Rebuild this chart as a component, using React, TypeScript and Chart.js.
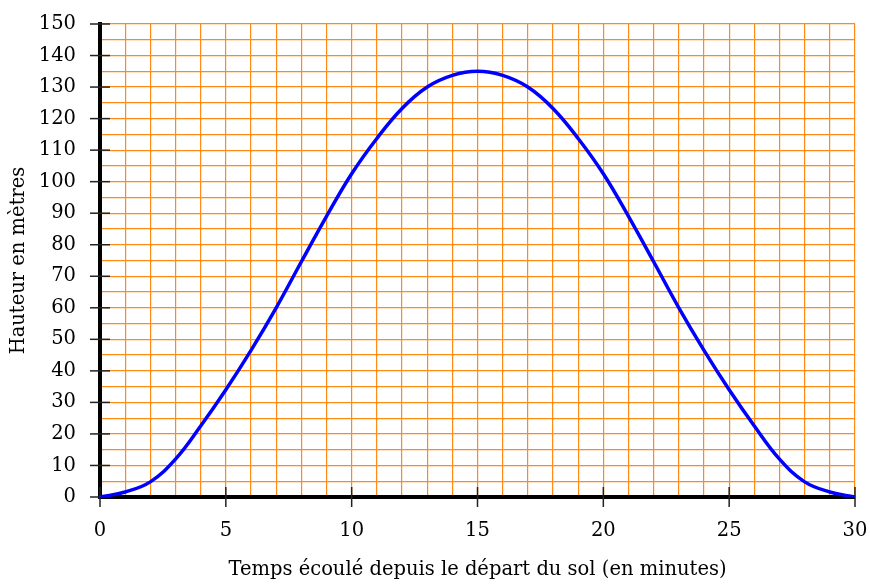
import React, { useEffect, useRef } from 'react';
import { Chart, registerables } from 'chart.js';

Chart.register(...registerables);

const minutes = [0, 1, 2, 3, 4, 5, 6, 7, 8, 9, 10, 11, 12, 13, 14, 15, 16, 17, 18, 19, 20, 21, 22, 23, 24, 25, 26, 27, 28, 29, 30];
const heights = [0, 1.6, 4.8, 12, 22.5, 34, 46.5, 60, 74.6, 89, 102.5, 113.7, 123.2, 130, 133.7, 135, 133.7, 130, 123.2, 113.7, 102.5, 89, 74.6, 60, 46.5, 34, 22.5, 12, 4.8, 1.6, 0];
const xTickLabels = [0, 5, 10, 15, 20, 25, 30];
const yTickLabels = [0, 10, 20, 30, 40, 50, 60, 70, 80, 90, 100, 110, 120, 130, 140, 150];
const xTitle = 'Temps écoulé depuis le départ du sol (en minutes)';
const yTitle = 'Hauteur en mètres';

const FONT = 'DejaVu Serif';
const GRID = '#ff8a14';

const crossTicks = {
  id: 'crossTicks',
  beforeDatasetsDraw(chart: any) {
    const { ctx, chartArea, scales } = chart;
    ctx.save();
    ctx.strokeStyle = '#222';
    ctx.lineWidth = 1.5;
    const L = 10;
    xTickLabels.forEach((v) => {
      const px = scales.x.getPixelForValue(v);
      ctx.beginPath();
      ctx.moveTo(px, chartArea.bottom - L);
      ctx.lineTo(px, chartArea.bottom + L);
      ctx.stroke();
    });
    yTickLabels.forEach((v) => {
      const py = scales.y.getPixelForValue(v);
      ctx.beginPath();
      ctx.moveTo(chartArea.left - L, py);
      ctx.lineTo(chartArea.left + L, py);
      ctx.stroke();
    });
    ctx.restore();
  },
};

export default function App() {
  const ref = useRef<HTMLCanvasElement | null>(null);
  useEffect(() => {
    if (!ref.current) return;
    const chart = new Chart(ref.current, {
      type: 'line',
      data: {
        datasets: [
          {
            data: minutes.map((m, i) => ({ x: m, y: heights[i] })),
            borderColor: '#0000ff',
            borderWidth: 3.5,
            pointRadius: 0,
            tension: 0.4,
            fill: false,
          },
        ],
      },
      options: {
        animation: false,
        responsive: true,
        maintainAspectRatio: false,
        layout: { padding: { top: 24, right: 15, left: 0, bottom: 0 } },
        plugins: { legend: { display: false }, tooltip: { enabled: false } },
        scales: {
          x: {
            type: 'linear',
            min: 0,
            max: 30,
            afterFit: (s: any) => { s.height = 90; s.paddingLeft = 0; s.paddingRight = 0; },
            grid: { color: GRID, lineWidth: 1.2, tickLength: 10, tickColor: 'rgba(0,0,0,0)' },
            border: { color: '#000', width: 4 },
            ticks: {
              stepSize: 1,
              autoSkip: false,
              maxRotation: 0,
              padding: 12,
              color: '#000',
              font: { family: FONT, size: 19.5 },
              callback: (v: any) => (xTickLabels.includes(Number(v)) ? String(v) : ''),
            },
            title: {
              display: true,
              text: xTitle,
              color: '#000',
              font: { family: FONT, size: 19.5 },
              padding: { top: 0, bottom: 5 },
            },
          },
          y: {
            type: 'linear',
            min: 0,
            max: 150,
            afterFit: (s: any) => { s.width = 100; s.paddingTop = 0; s.paddingBottom = 0; },
            grid: { color: GRID, lineWidth: 1.2, tickLength: 10, tickColor: 'rgba(0,0,0,0)' },
            border: { color: '#000', width: 4 },
            ticks: {
              stepSize: 5,
              autoSkip: false,
              padding: 14,
              color: '#000',
              font: { family: FONT, size: 19.5 },
              callback: (v: any) => (yTickLabels.includes(Number(v)) ? String(v) : ''),
            },
            title: {
              display: true,
              text: yTitle,
              color: '#000',
              font: { family: FONT, size: 19.5 },
              padding: { top: 7, bottom: 0 },
            },
          },
        },
      },
      plugins: [crossTicks],
    } as any);
    return () => chart.destroy();
  }, []);
  return (
    <div style={{ position: 'absolute', left: 0, top: 0, width: 870, height: 587 }}>
      <canvas ref={ref} />
    </div>
  );
}
